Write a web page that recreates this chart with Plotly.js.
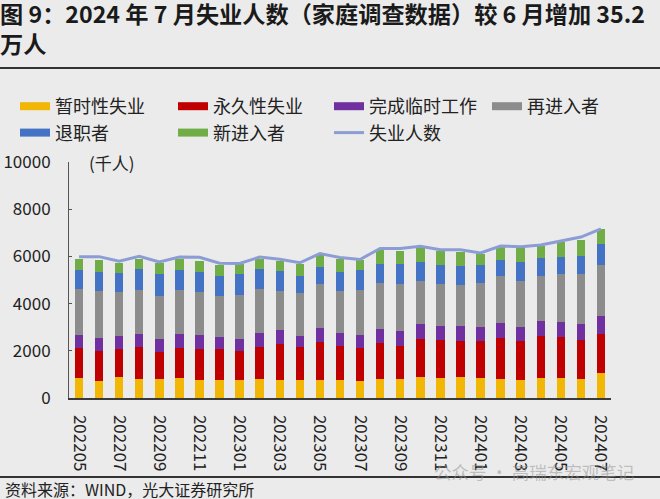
<!DOCTYPE html>
<html><head><meta charset="utf-8">
<script src="https://cdn.plot.ly/plotly-3.0.1.min.js"></script>
<style>html,body{margin:0;padding:0;background:#EBEBEB;} #chart{width:660px;height:499px;}</style>
</head><body><div id="chart"></div>
<script>
// ---- data (thousands of persons) ----
const months = ['202205','202206','202207','202208','202209','202210','202211','202212',
  '202301','202302','202303','202304','202305','202306','202307','202308','202309','202310','202311','202312',
  '202401','202402','202403','202404','202405','202406','202407'];
const tickMonths = months.filter((m, i) => i % 2 === 0);

const seriesNames = ['暂时性失业', '永久性失业', '完成临时工作', '再进入者', '退职者', '新进入者'];
const lineName = '失业人数';

const temporaryLayoff = [830, 730, 870, 790, 790, 840, 760, 760, 760, 800, 760, 750, 780, 750, 710, 790, 790, 870, 860, 870, 860, 800, 770, 860, 830, 800, 1050];
const permanentLoss   = [1310, 1270, 1200, 1360, 1170, 1280, 1310, 1310, 1240, 1370, 1530, 1410, 1580, 1450, 1390, 1530, 1410, 1640, 1600, 1560, 1570, 1740, 1650, 1750, 1770, 1650, 1680];
const tempJobEnded    = [520, 540, 550, 580, 540, 590, 610, 500, 520, 570, 580, 470, 620, 570, 570, 620, 660, 610, 590, 620, 590, 650, 600, 640, 610, 700, 750];
const reentrants      = [1980, 1990, 1860, 1850, 1840, 1880, 1830, 1770, 1840, 1860, 1660, 1820, 1840, 1770, 1890, 1930, 1990, 1850, 1780, 1740, 1840, 1980, 1930, 1910, 2060, 2110, 2170];
const jobLeavers      = [780, 820, 830, 890, 900, 830, 820, 830, 880, 860, 860, 740, 740, 780, 850, 810, 820, 790, 810, 820, 780, 680, 820, 780, 710, 740, 860];
const newEntrants     = [490, 500, 420, 420, 470, 460, 470, 470, 440, 420, 420, 470, 490, 560, 420, 600, 570, 610, 590, 590, 450, 560, 610, 510, 610, 710, 650];
const unemployedTotal = [5990, 5990, 5800, 6000, 5760, 5970, 5960, 5710, 5700, 5970, 5880, 5730, 6120, 5950, 5870, 6340, 6340, 6430, 6280, 6280, 6150, 6440, 6410, 6480, 6650, 6820, 7170];

const yTicks = [0, 2000, 4000, 6000, 8000, 10000];

// ---- styling ----
const seriesValues = [temporaryLayoff, permanentLoss, tempJobEnded, reentrants, jobLeavers, newEntrants];
const seriesColors = ['#F2B705', '#C00000', '#7030A0', '#8C8C8C', '#4472C4', '#70AD47'];
// legend column (1..4) of each series, and of the line
const seriesLegendCol = [1, 2, 3, 4, 1, 2];
const lineLegendCol = 3;
const lineColor = '#8C9DD6';
const FONT = '"Noto Sans CJK SC", "Noto Sans", sans-serif';
const TXT = '#222222';

const W = 660, H = 499, ML = 69, MR = 49, MT = 162, MB = 101;
const PW = W - ML - MR, PH = H - MT - MB;
const px = x => (x - ML) / PW;
const py = y => (H - MB - y) / PH;
const legendId = c => (c === 1 ? 'legend' : 'legend' + c);

const traces = [];
seriesValues.forEach((vals, i) => {
  traces.push({
    type: 'bar', x: months, y: vals, name: seriesNames[i],
    marker: {color: seriesColors[i], line: {width: 0}},
    showlegend: false, hoverinfo: 'x+y+name'
  });
});
traces.push({
  type: 'scatter', mode: 'lines', x: months, y: unemployedTotal, name: lineName,
  line: {color: lineColor, width: 3}, showlegend: false
});
// legend entries (drawn as wide swatches)
seriesNames.forEach((n, i) => {
  traces.push({type: 'scatter', mode: 'lines', x: [months[0]], y: [null], name: n,
    legend: legendId(seriesLegendCol[i]),
    line: {color: seriesColors[i], width: 8}, hoverinfo: 'skip'});
});
traces.push({type: 'scatter', mode: 'lines', x: [months[0]], y: [null], name: lineName,
  legend: legendId(lineLegendCol),
  line: {color: lineColor, width: 3}, hoverinfo: 'skip'});

const boundaryTicks = months.slice(0, -1).map((m, i) => i + 0.5).filter((v, i) => i % 2 === 1);

const legendX = [15, 173, 329, 487];
const mkLegend = xpx => ({
  orientation: 'v', x: px(xpx), xanchor: 'left', y: py(88), yanchor: 'top',
  font: {family: FONT, size: 18, color: TXT},
  bgcolor: 'rgba(0,0,0,0)', traceorder: 'normal', tracegroupgap: 0
});

const layout = {
  width: W, height: H,
  paper_bgcolor: '#EBEBEB', plot_bgcolor: '#EBEBEB',
  margin: {l: ML, r: MR, t: MT, b: MB, pad: 0},
  barmode: 'stack', bargap: 0.58,
  font: {family: FONT, color: TXT, size: 17},
  title: {
    text: '图 9：2024 年 7 月失业人数（家庭调查数据）较 6 月增加 35.2<br>万人',
    font: {family: FONT, size: 23.2, color: '#1a1a1a', weight: 'bold'},
    x: 0, xref: 'container', xanchor: 'left',
    y: 1 - 23 / H, yref: 'container', yanchor: 'top', pad: {l: 0, t: 0}
  },
  showlegend: true,
  legend: mkLegend(legendX[0]),
  legend2: mkLegend(legendX[1]),
  legend3: mkLegend(legendX[2]),
  legend4: mkLegend(legendX[3]),
  xaxis: {
    type: 'category', range: [-0.5, months.length - 0.5],
    tickmode: 'array', tickvals: tickMonths, ticktext: tickMonths,
    tickangle: 90, ticks: '', showline: true, linecolor: '#3a3a3a', linewidth: 1.5,
    showgrid: false, zeroline: false, ticklabelstandoff: 12,
    tickfont: {family: FONT, size: 17, color: TXT}, fixedrange: true
  },
  xaxis2: {
    overlaying: 'x', anchor: 'y', side: 'bottom', type: 'linear',
    range: [-0.5, months.length - 0.5],
    tickmode: 'array', tickvals: boundaryTicks, ticks: 'inside', ticklen: 4,
    tickcolor: '#3a3a3a', tickwidth: 1, showticklabels: false,
    showgrid: false, zeroline: false, showline: false, fixedrange: true
  },
  yaxis: {
    range: [0, 10000], tickmode: 'array', tickvals: yTicks, ticktext: yTicks.map(String),
    ticks: 'inside', ticklen: 3, tickcolor: '#555', showline: true, linecolor: '#555', linewidth: 1,
    showgrid: false, zeroline: false, ticklabelstandoff: 14,
    tickfont: {family: FONT, size: 17, color: TXT}, fixedrange: true
  },
  shapes: [
    {type: 'line', xref: 'paper', yref: 'paper', x0: px(0), x1: px(W), y0: py(68), y1: py(68),
      line: {color: '#333', width: 2}},
    {type: 'line', xref: 'paper', yref: 'paper', x0: px(0), x1: px(W), y0: py(477), y1: py(477),
      line: {color: '#333', width: 2}}
  ],
  annotations: [
    {text: '(千人)', xref: 'paper', yref: 'paper', x: px(87), y: py(162), xanchor: 'left', yanchor: 'middle',
      showarrow: false, font: {family: FONT, size: 17, color: TXT}},
    {text: '资料来源：WIND，光大证券研究所', xref: 'paper', yref: 'paper', x: px(3), y: py(489),
      xanchor: 'left', yanchor: 'middle', showarrow: false, font: {family: FONT, size: 16, color: TXT}},
    {text: '公众号 · 高瑞东宏观笔记', xref: 'paper', yref: 'paper', x: px(432), y: py(471),
      xanchor: 'left', yanchor: 'middle', showarrow: false,
      font: {family: FONT, size: 17.5, color: 'rgba(150,150,150,0.55)'}}
  ]
};

Plotly.newPlot('chart', traces, layout, {staticPlot: true, displayModeBar: false});
</script>
</body></html>
